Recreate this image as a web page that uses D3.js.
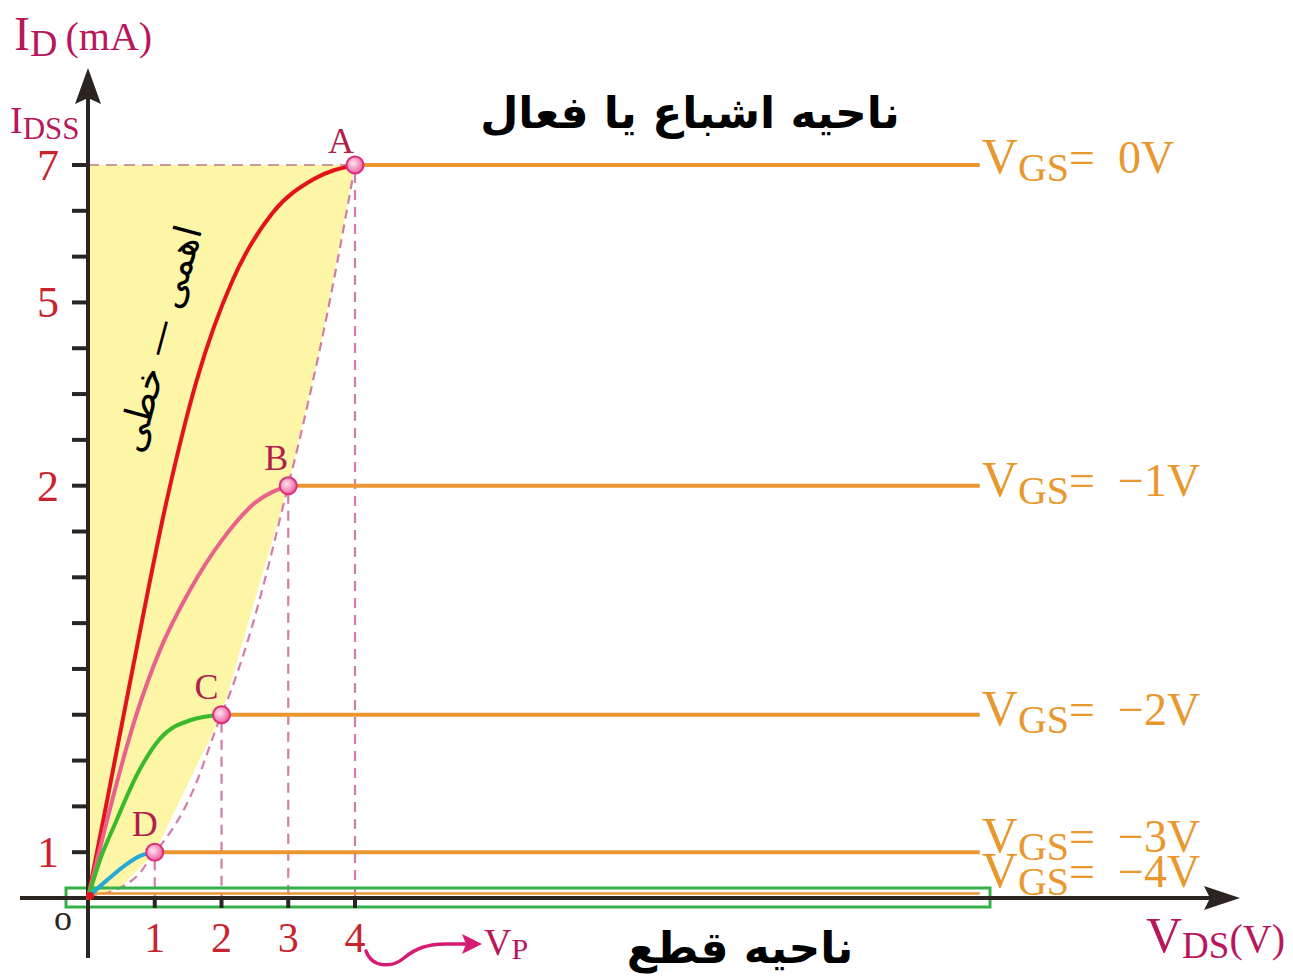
<!DOCTYPE html>
<html>
<head>
<meta charset="utf-8">
<script src="https://cdn.jsdelivr.net/npm/d3@7/dist/d3.min.js"></script>
<style>
  html, body { margin: 0; padding: 0; background: #ffffff; }
  svg { display: block; }
</style>
</head>
<body>
<svg id="chart" width="1293" height="977"></svg>
<script>
// JFET drain characteristics: I_D versus V_DS for several gate voltages.

// Gate-source voltages of each characteristic (V)
const vgsLevels = [0, -1, -2, -3, -4];
const vgsLabels = ["0V", "\u22121V", "\u22122V", "\u22123V", "\u22124V"];
// Knee (pinch-off) points A..D: V_DS (V) and I_D (mA)
const kneeNames = ["A", "B", "C", "D"];
const kneeVds = [4, 3, 2, 1];
const kneeId = [7, 2, 1.375, 1];
// Current of the cut-off characteristic (V_GS = -4V)
const cutoffId = 0.1;
// V_DS where the drawn saturation lines stop
const vdsEnd = 13.36;

// Ohmic-region curves, [V_DS, I_D] pairs, one per V_GS from 0 to -3 V
const curveVgs0 = [[0, 0], [0.285, 1.14], [0.674, 1.505], [1.18, 1.96], [1.63, 3.73], [2.17, 5.33], [2.77, 6.31], [3.37, 6.79], [4, 7]];
const curveVgs1 = [[0, 0], [0.36, 1.14], [0.70, 1.361], [1.08, 1.552], [1.53, 1.716], [2.01, 1.852], [2.50, 1.953], [3, 2]];
const curveVgs2 = [[0, 0], [0.18, 0.83], [0.43, 1.088], [0.73, 1.21], [1.08, 1.31], [1.53, 1.36], [2, 1.375]];
const curveVgs3 = [[0.06, 0.1], [0.285, 0.39], [0.58, 0.74], [0.78, 0.92], [1, 1]];
// Pinch-off locus bounding the ohmic region
const locus = [[0, 0], [0.48, 0.22], [1, 1], [2, 1.375], [3, 2], [3.48, 4.27], [4, 7]];

// Axis tick labels
const xTickValues = [1, 2, 3, 4];
const yTickLabels = [7, 5, 2, 1];
// The current axis is drawn schematically: labelled values sit on these grid steps
const idBreaks = [0, 1, 2, 5, 7];
const idBreakSteps = [0, 1, 9, 13, 16];
const gridStepCount = 16;

const svg = d3.select("#chart");

const x = d3.scaleLinear().domain([0, 4]).range([88, 355]);
const gridStep = d3.scaleLinear().domain([0, gridStepCount]).range([898, 165]);
const y = d3.scaleLinear().domain(idBreaks).range(idBreakSteps.map(gridStep));

const serif = "'Liberation Serif', 'Times New Roman', serif";
const persian = "'DejaVu Sans', sans-serif";

const C = {
  axis: "#2b2522",
  yellow: "#fcf6a6",
  dash: "#d07ea8",
  dashTop: "#c99a9a",
  orange: "#ec9632",
  vgsText: "#e8982f",
  red: "#e3131c",
  pink: "#e8628c",
  green: "#3bb92c",
  cyan: "#25a9d6",
  knee: "#b21f4c",
  tick: "#c8242e",
  axisTitle: "#b8175c",
  box: "#35b04a",
  vp: "#d81b72"
};

const defs = svg.append("defs");
const grad = defs.append("radialGradient").attr("id", "kneeFill").attr("cx", "40%").attr("cy", "40%").attr("r", "60%");
grad.append("stop").attr("offset", "0%").attr("stop-color", "#ffe4f0");
grad.append("stop").attr("offset", "100%").attr("stop-color", "#ee62a2");

// Ohmic region fill
const regionPts = [[0, 0], [0, 7], ...locus.slice().reverse()];
svg.append("path")
  .attr("d", d3.line().x(d => x(d[0])).y(d => y(d[1]))(regionPts) + "Z")
  .attr("fill", C.yellow);

// Pinch-off locus (dashed)
svg.append("path")
  .attr("d", d3.line().x(d => x(d[0])).y(d => y(d[1])).curve(d3.curveMonotoneY)(locus))
  .attr("fill", "none").attr("stroke", C.dash).attr("stroke-width", 2.2)
  .attr("stroke-dasharray", "9,6");

// Drop lines from knee points to the V_DS axis
kneeVds.forEach((v, i) => {
  svg.append("line")
    .attr("x1", x(v)).attr("x2", x(v))
    .attr("y1", y(kneeId[i]) + 8).attr("y2", y(0))
    .attr("stroke", C.dash).attr("stroke-width", 2.2).attr("stroke-dasharray", "10,7");
});
// I_DSS guide line
svg.append("line")
  .attr("x1", x(0)).attr("x2", x(kneeVds[0]))
  .attr("y1", y(kneeId[0])).attr("y2", y(kneeId[0]))
  .attr("stroke", C.dashTop).attr("stroke-width", 2.2).attr("stroke-dasharray", "11,7");

// Cut-off region box
svg.append("rect")
  .attr("x", 66).attr("y", 888).attr("width", 924).attr("height", 19)
  .attr("fill", "none").attr("stroke", C.box).attr("stroke-width", 3);

// Axes
const axisG = svg.append("g");
axisG.append("line").attr("x1", 20).attr("x2", 1212).attr("y1", y(0)).attr("y2", y(0))
  .attr("stroke", C.axis).attr("stroke-width", 4);
axisG.append("path").attr("d", `M1240,${y(0)} L1204,${y(0) - 12} L1210,${y(0)} L1204,${y(0) + 12} Z`).attr("fill", C.axis);
axisG.append("line").attr("x1", x(0)).attr("x2", x(0)).attr("y1", 958).attr("y2", 96)
  .attr("stroke", C.axis).attr("stroke-width", 4);
axisG.append("path").attr("d", `M${x(0)},68 L${x(0) - 13},104 L${x(0)},98 L${x(0) + 13},104 Z`).attr("fill", C.axis);

// Y tick marks, evenly spaced grid steps
d3.range(1, gridStepCount + 1).forEach(s => {
  axisG.append("line").attr("x1", x(0) - 16).attr("x2", x(0))
    .attr("y1", gridStep(s)).attr("y2", gridStep(s))
    .attr("stroke", C.axis).attr("stroke-width", 4);
});
// X tick marks
xTickValues.forEach(v => {
  axisG.append("line").attr("x1", x(v)).attr("x2", x(v))
    .attr("y1", y(0)).attr("y2", y(0) + 10)
    .attr("stroke", C.axis).attr("stroke-width", 4);
});

// Tick labels
svg.selectAll(".ylab").data(yTickLabels).enter().append("text")
  .attr("x", 48).attr("y", d => y(d) + 15)
  .attr("text-anchor", "middle").attr("font-family", serif).attr("font-size", 44)
  .attr("fill", C.tick).text(d => d);
svg.selectAll(".xlab").data(xTickValues).enter().append("text")
  .attr("x", d => x(d)).attr("y", 952)
  .attr("text-anchor", "middle").attr("font-family", serif).attr("font-size", 42)
  .attr("fill", C.tick).text(d => d);
svg.append("text").attr("x", 63).attr("y", 930).attr("text-anchor", "middle")
  .attr("font-family", serif).attr("font-size", 36).attr("fill", C.axis).text("o");

// Saturation lines
vgsLevels.forEach((vgs, i) => {
  const startV = i < kneeVds.length ? kneeVds[i] : 0;
  const level = i < kneeId.length ? kneeId[i] : cutoffId;
  svg.append("line")
    .attr("x1", x(startV)).attr("x2", x(vdsEnd))
    .attr("y1", y(level)).attr("y2", y(level))
    .attr("stroke", C.orange).attr("stroke-width", i < 4 ? 4 : 2.5);
});

// Ohmic-region curves
const line = d3.line().x(d => x(d[0])).y(d => y(d[1])).curve(d3.curveMonotoneX);
[[curveVgs0, C.red], [curveVgs1, C.pink], [curveVgs2, C.green], [curveVgs3, C.cyan]].forEach(([pts, col]) => {
  svg.append("path").attr("d", line(pts)).attr("fill", "none")
    .attr("stroke", col).attr("stroke-width", 4).attr("stroke-linecap", "round");
});
svg.append("circle").attr("cx", x(0) + 2).attr("cy", y(0) - 2).attr("r", 4).attr("fill", C.red);

// Knee points and their letters
const letterOffsets = [[-14, -12], [-12, -16], [-15, -16], [-10, -16]];
kneeVds.forEach((v, i) => {
  svg.append("circle").attr("cx", x(v)).attr("cy", y(kneeId[i])).attr("r", 8.5)
    .attr("fill", "url(#kneeFill)").attr("stroke", "#d92f7c").attr("stroke-width", 2);
  svg.append("text")
    .attr("x", x(v) + letterOffsets[i][0]).attr("y", y(kneeId[i]) + letterOffsets[i][1])
    .attr("text-anchor", "middle").attr("font-family", serif).attr("font-size", 36)
    .attr("fill", C.knee).text(kneeNames[i]);
});

// V_GS labels at the right end of each characteristic
const vgsLabelDy = [8, 10, 10, 0, -6];
vgsLevels.forEach((vgs, i) => {
  const level = i < kneeId.length ? kneeId[i] : cutoffId;
  const t = svg.append("text")
    .attr("x", x(vdsEnd) + 2).attr("y", y(level) + vgsLabelDy[i])
    .attr("font-family", serif).attr("fill", C.vgsText).attr("font-size", 50);
  t.append("tspan").text("V");
  t.append("tspan").attr("font-size", 40).attr("dy", 8).text("GS");
  t.append("tspan").attr("font-size", 46).attr("dy", -8).text("=\u2002" + vgsLabels[i]);
});

// Axis titles
const idTitle = svg.append("text").attr("x", 14).attr("y", 50)
  .attr("font-family", serif).attr("fill", C.axisTitle).attr("font-size", 48);
idTitle.append("tspan").text("I");
idTitle.append("tspan").attr("font-size", 38).attr("dy", 6).text("D");
idTitle.append("tspan").attr("font-size", 40).attr("dy", -6).text("\u2009(mA)");

const idss = svg.append("text").attr("x", 10).attr("y", 133)
  .attr("font-family", serif).attr("fill", C.axisTitle).attr("font-size", 38);
idss.append("tspan").text("I");
idss.append("tspan").attr("font-size", 31).attr("dy", 6).text("DSS");

const vdsTitle = svg.append("text").attr("x", 1146).attr("y", 952)
  .attr("font-family", serif).attr("fill", C.axisTitle).attr("font-size", 50);
vdsTitle.append("tspan").text("V");
vdsTitle.append("tspan").attr("font-size", 37).attr("dy", 6).text("DS");
vdsTitle.append("tspan").attr("font-size", 40).attr("dy", -6).text("(V)");

// Pinch-off voltage marker
svg.append("path")
  .attr("d", "M366,951 C372,968 392,968 404,958 C416,948 428,944 446,944 L466,944")
  .attr("fill", "none").attr("stroke", C.vp).attr("stroke-width", 3.5).attr("stroke-linecap", "round");
svg.append("path").attr("d", "M482,944 L462,934 L466,944 L462,954 Z").attr("fill", C.vp);
const vp = svg.append("text").attr("x", 484).attr("y", 955)
  .attr("font-family", serif).attr("fill", C.axisTitle).attr("font-size", 38);
vp.append("tspan").text("V");
vp.append("tspan").attr("font-size", 30).attr("dy", 4).text("P");

// Region names
svg.append("text").attr("x", 690).attr("y", 128).attr("text-anchor", "middle")
  .attr("font-family", persian).attr("font-weight", "bold").attr("font-size", 44)
  .attr("fill", "#000").attr("direction", "rtl").text("ناحیه اشباع یا فعال");
svg.append("text").attr("x", 740).attr("y", 963).attr("text-anchor", "middle")
  .attr("font-family", persian).attr("font-weight", "bold").attr("font-size", 44)
  .attr("fill", "#000").attr("direction", "rtl").text("ناحیه قطع");
svg.append("text").attr("transform", "translate(172,342) rotate(-75)")
  .attr("text-anchor", "middle").attr("font-family", persian).attr("font-size", 38)
  .attr("fill", "#000").attr("direction", "rtl").text("اهمی — خطی");
</script>
</body>
</html>
